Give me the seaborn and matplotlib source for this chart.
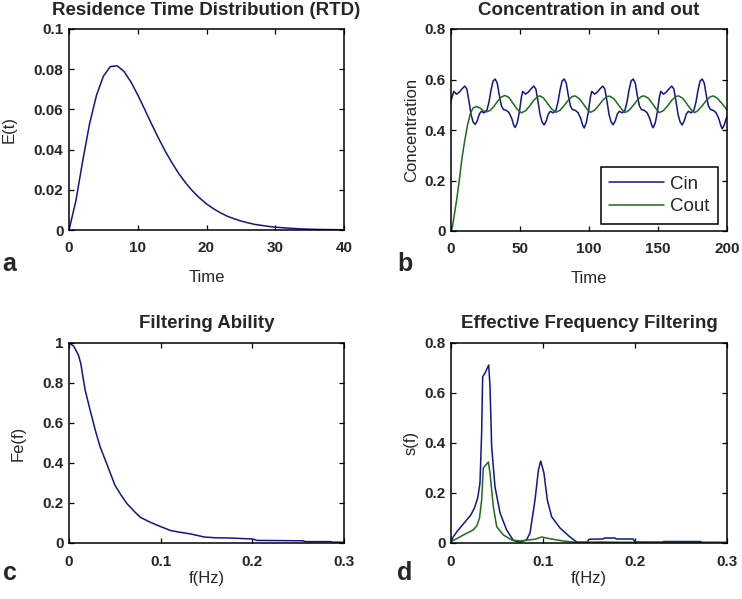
import matplotlib
matplotlib.use("Agg")
import matplotlib.pyplot as plt
import seaborn as sns

sns.set_style("ticks")
plt.rcParams['font.family'] = ['Liberation Sans', 'DejaVu Sans']

BLUE = '#14148c'
GREEN = '#1d6b1d'

# ---------------- (a) Residence time distribution ----------------
rtd_t = [0, 1, 2, 3, 4, 5, 6, 7, 8, 9, 10, 11, 12, 13, 14, 15, 16, 17, 18, 19, 20,
         21, 22, 23, 24, 25, 26, 27, 28, 29, 30, 32, 34, 36, 38, 40]
rtd_e = [0.0, 0.0145, 0.0345, 0.0530, 0.0670, 0.0765, 0.0813, 0.0817, 0.0789, 0.0737,
         0.0672, 0.0601, 0.0528, 0.0458, 0.0392, 0.0333, 0.0279, 0.0233, 0.0193, 0.0159,
         0.0130, 0.0106, 0.0086, 0.0069, 0.0056, 0.0045, 0.0036, 0.0028, 0.0023, 0.0018,
         0.0014, 0.0009, 0.0005, 0.0003, 0.0002, 0.0001]

# ---------------- (b) Concentration in and out ----------------
cin_t = [0, 1, 2, 4, 6, 8, 10, 11.5, 13, 14.5, 16, 17.5, 19, 20.5, 22, 24, 26, 27.5, 29, 30.5,
         32, 33.5, 35, 36.5, 38, 40, 42, 44, 45.5, 46.5, 48, 49.5,
         51, 52, 54, 56, 58, 60, 61.5, 63, 64.5, 66, 67.5, 69, 70.5, 72, 74, 76, 77.5, 79, 80.5,
         82, 83.5, 85, 86.5, 88, 90, 92, 94, 95.5, 96.5, 98, 99.5,
         101, 102, 104, 106, 108, 110, 111.5, 113, 114.5, 116, 117.5, 119, 120.5, 122, 124, 126, 127.5, 129, 130.5,
         132, 133.5, 135, 136.5, 138, 140, 142, 144, 145.5, 146.5, 148, 149.5,
         151, 152, 154, 156, 158, 160, 161.5, 163, 164.5, 166, 167.5, 169, 170.5, 172, 174, 176, 177.5, 179, 180.5,
         182, 183.5, 185, 186.5, 188, 190, 192, 194, 195.5, 196.5, 198, 200]
cin_v = [0.515, 0.535, 0.553, 0.542, 0.550, 0.563, 0.574, 0.562, 0.515, 0.462, 0.432, 0.422, 0.436, 0.463, 0.474, 0.468, 0.478, 0.510, 0.558, 0.594,
         0.602, 0.586, 0.537, 0.496, 0.481, 0.478, 0.469, 0.446, 0.418, 0.410, 0.428, 0.470,
         0.530, 0.553, 0.542, 0.550, 0.563, 0.574, 0.562, 0.515, 0.462, 0.432, 0.420, 0.436, 0.463, 0.474, 0.468, 0.478, 0.510, 0.558, 0.594,
         0.602, 0.586, 0.537, 0.496, 0.481, 0.478, 0.469, 0.446, 0.418, 0.408, 0.428, 0.470,
         0.530, 0.553, 0.542, 0.550, 0.563, 0.574, 0.562, 0.515, 0.462, 0.432, 0.421, 0.436, 0.463, 0.474, 0.468, 0.478, 0.510, 0.558, 0.594,
         0.602, 0.586, 0.537, 0.496, 0.481, 0.478, 0.469, 0.446, 0.418, 0.409, 0.428, 0.470,
         0.530, 0.553, 0.542, 0.550, 0.563, 0.574, 0.562, 0.515, 0.462, 0.432, 0.420, 0.436, 0.463, 0.474, 0.468, 0.478, 0.510, 0.558, 0.594,
         0.602, 0.586, 0.537, 0.496, 0.481, 0.478, 0.469, 0.446, 0.418, 0.405, 0.420, 0.455]

cout_t = [0, 1, 2, 4, 6, 8, 10, 12, 14, 16, 18.5, 21, 23.5, 26, 28.5, 31, 33.5, 36, 39, 42, 45, 48,
          51, 54, 57, 60, 63, 64.5, 67, 70, 73, 76, 79, 82, 85, 88, 90, 93, 96, 99,
          101, 104, 107, 110, 113, 115, 118, 121, 124, 126, 129, 132, 135, 138, 140, 143, 146, 149,
          151, 154, 157, 160, 163, 165, 168, 171, 174, 176.5, 179, 182, 185, 188, 190, 193, 196, 200]
cout_v = [0.0, 0.015, 0.05, 0.12, 0.20, 0.29, 0.36, 0.42, 0.465, 0.487, 0.493, 0.487, 0.476, 0.472, 0.478, 0.493, 0.512, 0.529, 0.537, 0.529, 0.505, 0.482,
          0.468, 0.476, 0.495, 0.518, 0.533, 0.535, 0.527, 0.505, 0.483, 0.470, 0.478, 0.497, 0.518, 0.533, 0.535, 0.524, 0.502, 0.480,
          0.470, 0.478, 0.497, 0.518, 0.533, 0.534, 0.524, 0.502, 0.480, 0.469, 0.478, 0.497, 0.518, 0.533, 0.535, 0.526, 0.504, 0.481,
          0.469, 0.477, 0.496, 0.518, 0.533, 0.535, 0.525, 0.503, 0.480, 0.469, 0.477, 0.496, 0.517, 0.532, 0.535, 0.526, 0.507, 0.480]

# ---------------- (c) Filtering ability ----------------
fe_f = [0, 0.005, 0.0103, 0.0128, 0.0176, 0.023, 0.0286, 0.034, 0.040, 0.045, 0.050, 0.056,
        0.063, 0.0725, 0.078, 0.089, 0.100, 0.111, 0.122, 0.133, 0.1475, 0.16, 0.175, 0.2,
        0.205, 0.23, 0.255, 0.258, 0.285, 0.288, 0.3]
fe_v = [1.0, 0.985, 0.94, 0.898, 0.765, 0.665, 0.565, 0.48, 0.41, 0.35, 0.29, 0.245,
        0.198, 0.152, 0.128, 0.103, 0.082, 0.062, 0.053, 0.045, 0.030, 0.026, 0.025, 0.020,
        0.013, 0.012, 0.011, 0.007, 0.007, 0.004, 0.004]

# ---------------- (d) Effective frequency filtering ----------------
sin_f = [0, 0.0025, 0.007, 0.012, 0.017, 0.0215, 0.0255, 0.029, 0.0315, 0.0333, 0.0344, 0.037,
         0.041, 0.0424, 0.0442, 0.0478, 0.0533, 0.0605, 0.0678, 0.075, 0.082, 0.0859, 0.0913,
         0.095, 0.0975, 0.101, 0.1047, 0.1094, 0.1185, 0.129, 0.137, 0.148, 0.150, 0.165, 0.167,
         0.178, 0.180, 0.198, 0.200, 0.229, 0.231, 0.271, 0.273, 0.3]
sin_v = [0.005, 0.025, 0.048, 0.07, 0.092, 0.112, 0.14, 0.18, 0.24, 0.44, 0.665, 0.68,
         0.712, 0.625, 0.385, 0.225, 0.12, 0.052, 0.01, 0.004, 0.012, 0.04, 0.172,
         0.292, 0.328, 0.28, 0.172, 0.105, 0.06, 0.025, 0.003, 0.003, 0.015, 0.016, 0.02,
         0.02, 0.016, 0.016, 0.004, 0.003, 0.006, 0.006, 0.002, 0.002]

sout_f = [0, 0.0025, 0.01, 0.017, 0.024, 0.028, 0.031, 0.0333, 0.0351, 0.0406, 0.0424, 0.046,
          0.0497, 0.057, 0.066, 0.075, 0.0913, 0.0986, 0.1076, 0.122, 0.135, 0.165, 0.175, 0.3]
sout_v = [0.004, 0.01, 0.025, 0.039, 0.052, 0.068, 0.1, 0.172, 0.30, 0.324, 0.28, 0.145,
          0.065, 0.032, 0.012, 0.008, 0.015, 0.024, 0.017, 0.008, 0.003, 0.004, 0.003, 0.002]

W, H = 742, 599
fig = plt.figure(figsize=(W / 100, H / 100), dpi=100)


def add_axes(x0, y0, x1, y1):
    return fig.add_axes([x0 / W, 1 - y1 / H, (x1 - x0) / W, (y1 - y0) / H])


ax_a = add_axes(69, 29, 344, 230)
ax_b = add_axes(451, 29, 727, 231)
ax_c = add_axes(69, 343, 344, 543)
ax_d = add_axes(451, 343, 727, 543)

LW = 1.1
sns.lineplot(x=rtd_t, y=rtd_e, ax=ax_a, color=BLUE, lw=LW)
sns.lineplot(x=cin_t, y=cin_v, ax=ax_b, color=BLUE, lw=LW, label='Cin')
sns.lineplot(x=cout_t, y=cout_v, ax=ax_b, color=GREEN, lw=LW, label='Cout')
sns.lineplot(x=fe_f, y=fe_v, ax=ax_c, color=BLUE, lw=LW)
sns.lineplot(x=sin_f, y=sin_v, ax=ax_d, color=BLUE, lw=LW)
sns.lineplot(x=sout_f, y=sout_v, ax=ax_d, color=GREEN, lw=LW)

TSIZE = 13.5
# (ax, title, xlabel, ylabel, xlim, xticks, xticklabels, ylim, yticks, yticklabels,
#  title pad, xlabel pad, ylabel pad, xtick pad)
specs = [
    (ax_a, 'Residence Time Distribution (RTD)', 'Time', 'E(t)', (0, 40), [0, 10, 20, 30, 40],
     ['0', '10', '20', '30', '40'], (0, 0.1), [0, 0.02, 0.04, 0.06, 0.08, 0.1],
     ['0', '0.02', '0.04', '0.06', '0.08', '0.1'], 10, 11, 12, 8),
    (ax_b, 'Concentration in and out', 'Time', 'Concentration', (0, 200), [0, 50, 100, 150, 200],
     ['0', '50', '100', '150', '200'], (0, 0.8), [0, 0.2, 0.4, 0.6, 0.8],
     ['0', '0.2', '0.4', '0.6', '0.8'], 10, 11, 4, 8),
    (ax_c, 'Filtering Ability', 'f(Hz)', 'Fe(f)', (0, 0.3), [0, 0.1, 0.2, 0.3],
     ['0', '0.1', '0.2', '0.3'], (0, 1), [0, 0.2, 0.4, 0.6, 0.8, 1],
     ['0', '0.2', '0.4', '0.6', '0.8', '1'], 11, 1, 12, 9),
    (ax_d, 'Effective Frequency Filtering', 'f(Hz)', 's(f)', (0, 0.3), [0, 0.1, 0.2, 0.3],
     ['0', '0.1', '0.2', '0.3'], (0, 0.8), [0, 0.2, 0.4, 0.6, 0.8],
     ['0', '0.2', '0.4', '0.6', '0.8'], 11, 1, 4, 9),
]

for (ax, title, xl, yl, xlim, xt, xtl, ylim, yt, ytl,
     tpad, xlpad, ylpad, xtpad) in specs:
    ax.set_xlim(*xlim)
    ax.set_ylim(*ylim)
    ax.set_xticks(xt)
    ax.set_xticklabels(xtl, fontsize=11, fontweight='bold')
    ax.set_yticks(yt)
    ax.set_yticklabels(ytl, fontsize=11, fontweight='bold')
    ax.tick_params(direction='in', length=3.5, width=0.9, top=True, right=True,
                   color='black')
    ax.tick_params(axis='x', pad=xtpad)
    ax.tick_params(axis='y', pad=4)
    for s in ax.spines.values():
        s.set_visible(True)
        s.set_color('black')
        s.set_linewidth(1.1)
    ax.set_title(title, fontsize=TSIZE, fontweight='bold', pad=tpad)
    ax.set_xlabel(xl, fontsize=12, labelpad=xlpad)
    ax.set_ylabel(yl, fontsize=12, labelpad=ylpad)
    ax.set_facecolor('white')

leg = ax_b.legend(loc='lower right', bbox_to_anchor=(0.967, 0.035), fontsize=13.5,
                  frameon=True, fancybox=False, framealpha=1, edgecolor='black',
                  handlelength=2.9, handletextpad=0.35, labelspacing=0.3,
                  borderpad=0.45, borderaxespad=0)
leg.get_frame().set_linewidth(1.1)

for letter, x, y in [('a', 2, 271), ('b', 397, 271), ('c', 3, 580), ('d', 397, 580)]:
    fig.text(x / W, 1 - y / H, letter, fontsize=18, fontweight='bold', ha='left', va='baseline')

fig.savefig('out.png', dpi=100)
